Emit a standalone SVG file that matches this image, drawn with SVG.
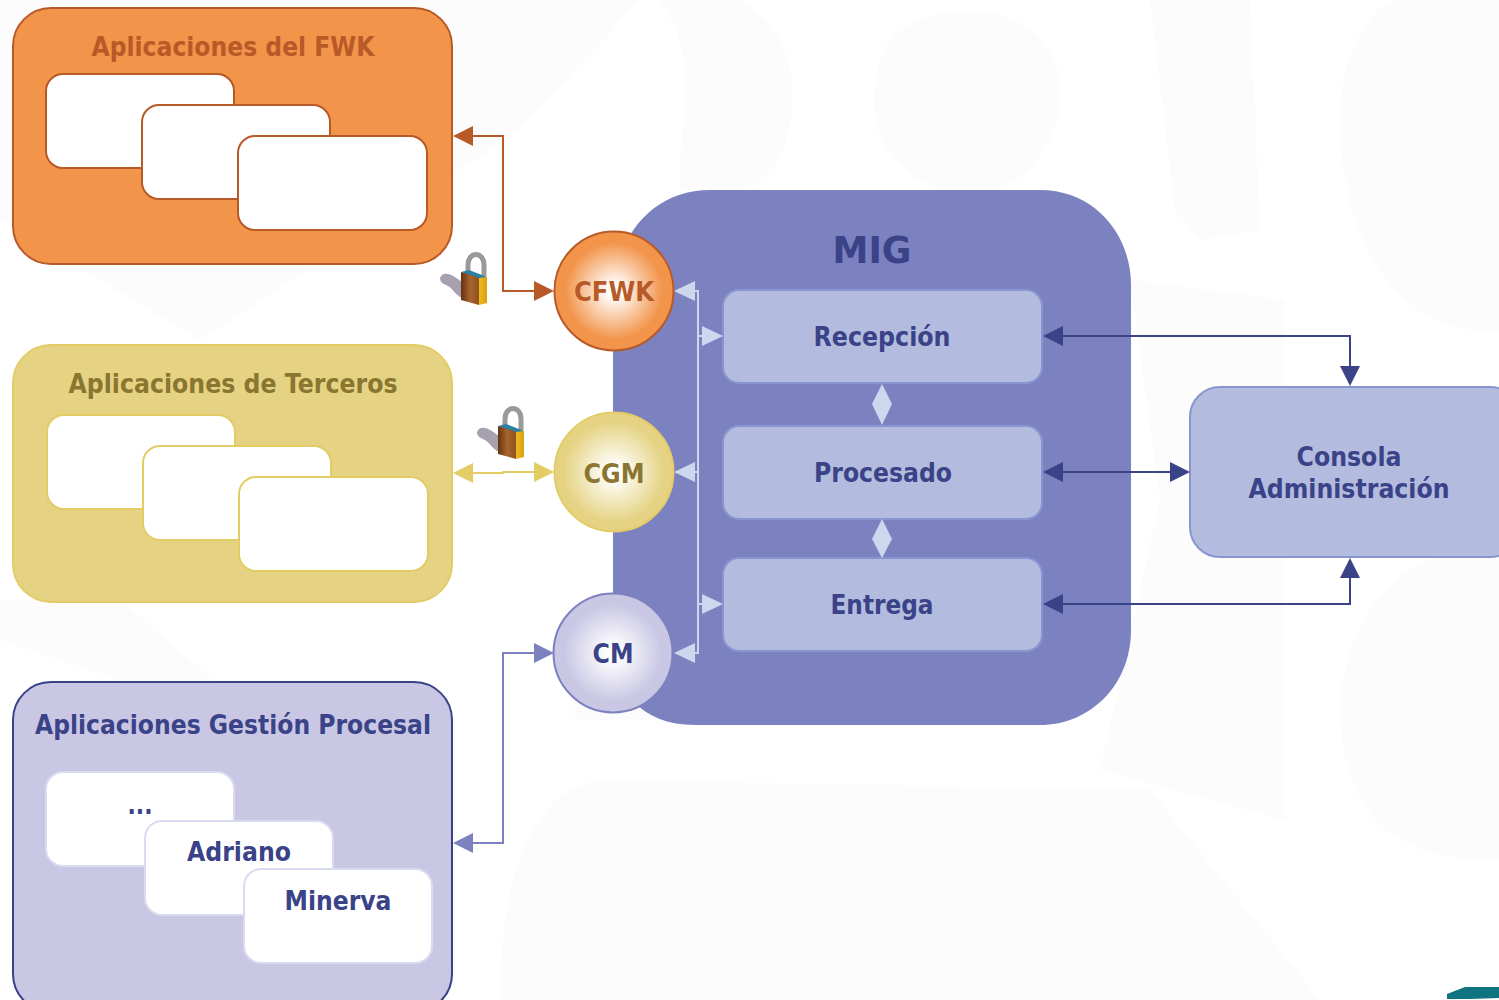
<svg xmlns="http://www.w3.org/2000/svg" width="1499" height="1000" viewBox="0 0 1499 1000">
<style>
text{font-family:"DejaVu Sans","Liberation Sans",sans-serif;font-weight:bold;text-anchor:middle;font-size:27px}
.wm{fill:#fcfcfc;stroke:none}
.inner{stroke-width:2}
.or{fill:#fff;stroke:#b85a28}
.ye{fill:#fff;stroke:#e3cc66}
.li{fill:#fff;stroke:#d9dcf0}
.box{fill:#b3bcde;stroke:#8796cf;stroke-width:2}
.blue{fill:#3a4288}
.c{fill:none;stroke-width:2}
</style>
<defs>
<radialGradient id="gO"><stop offset="0.1" stop-color="#fff"/><stop offset="0.82" stop-color="#f2944a"/></radialGradient>
<radialGradient id="gY"><stop offset="0.1" stop-color="#fff"/><stop offset="0.85" stop-color="#e5d383"/></radialGradient>
<radialGradient id="gL"><stop offset="0.1" stop-color="#fff"/><stop offset="0.82" stop-color="#c9c7e4"/></radialGradient>
<linearGradient id="lockB" x1="0" x2="1" y1="0" y2="0"><stop offset="0" stop-color="#643210"/><stop offset="0.35" stop-color="#a9642c"/><stop offset="0.68" stop-color="#8f5220"/><stop offset="0.7" stop-color="#f0b91e"/><stop offset="1" stop-color="#d9a015"/></linearGradient>
<g id="lock">
<path d="M0 22 C3 14 12 18 22 26 L24 43 C16 40 14 34 8 30 C4 28 0 27 0 22Z" fill="#a8a0ae"/>
<path d="M28 18 V9 C28 -5 44 -5 44 9 V20" fill="none" stroke="#9a9a9a" stroke-width="5"/>
<path d="M21 16 L47 21 V47 L39 49 L21 44Z" fill="url(#lockB)"/>
<path d="M21 16 L29 14 L47 21 L39 22Z" fill="#2d7fa0"/>
</g>
</defs>
<rect width="1499" height="1000" fill="#fff"/>
<g id="watermark">
<path class="wm" d="M430 0 H640 L520 130 L200 340 L0 220 V0Z"/>
<path class="wm" d="M0 600 L120 600 L330 780 L150 690 L0 640Z"/>
<path class="wm" d="M500 1000 C500 880 530 790 600 780 L1150 790 L1320 1000Z"/>
<path class="wm" d="M660 0 H740 C820 40 800 180 740 190 H680 C680 100 700 60 660 0Z"/>
<path class="wm" d="M880 60 C900 -10 1060 -10 1060 90 C1060 170 990 210 940 190 C890 170 860 130 880 60Z"/>
<path class="wm" d="M1150 0 H1250 L1260 230 L1200 240 L1175 210 Z"/>
<path class="wm" d="M1340 120 C1340 40 1380 0 1400 0 H1499 V330 C1400 340 1340 240 1340 120Z"/>
<path class="wm" d="M1130 280 L1285 300 V820 L1100 770 L1160 500Z"/>
<path class="wm" d="M1340 700 C1360 570 1420 560 1499 540 V860 C1420 860 1340 840 1340 700Z"/>
<path class="wm" d="M575 620 L800 720 H575Z"/>
</g>
<g id="mig">
<path d="M613 300 C613 240 650 190 710 190 H1040 C1095 190 1131 235 1131 285 V630 C1131 685 1090 725 1040 725 H695 C640 725 613 690 613 640Z" fill="#7c81bf"/>
<text x="872" y="263" style="font-size:37px" class="blue" textLength="79" lengthAdjust="spacingAndGlyphs">MIG</text>
</g>
<g id="app-fwk">
<rect x="13" y="8" width="439" height="256" rx="38" fill="#f2944a" stroke="#b85a28" stroke-width="2"/>
<text x="233" y="56" fill="#b85a28" textLength="283" lengthAdjust="spacingAndGlyphs">Aplicaciones del FWK</text>
<rect class="inner or" x="46" y="74" width="188" height="94" rx="17"/>
<rect class="inner or" x="142" y="105" width="188" height="94" rx="17"/>
<rect class="inner or" x="238" y="136" width="189" height="94" rx="17"/>
</g>
<g id="app-terceros">
<rect x="13" y="345" width="439" height="257" rx="38" fill="#e5d383" stroke="#e3cc66" stroke-width="2"/>
<text x="233" y="393" fill="#8a7630" textLength="329" lengthAdjust="spacingAndGlyphs">Aplicaciones de Terceros</text>
<rect class="inner ye" x="47" y="415" width="188" height="94" rx="17"/>
<rect class="inner ye" x="143" y="446" width="188" height="94" rx="17"/>
<rect class="inner ye" x="239" y="477" width="189" height="94" rx="17"/>
</g>
<g id="app-gestion">
<rect x="13" y="682" width="439" height="330" rx="38" fill="#c9c7e4" stroke="#3a4288" stroke-width="2"/>
<text x="233" y="734" class="blue" textLength="396" lengthAdjust="spacingAndGlyphs">Aplicaciones Gestión Procesal</text>
<rect class="inner li" x="46" y="772" width="188" height="94" rx="17"/>
<text x="140" y="814" class="blue" textLength="25" lengthAdjust="spacingAndGlyphs">...</text>
<rect class="inner li" x="145" y="821" width="188" height="94" rx="17"/>
<text x="239" y="861" class="blue" textLength="104" lengthAdjust="spacingAndGlyphs">Adriano</text>
<rect class="inner li" x="244" y="869" width="188" height="94" rx="17"/>
<text x="338" y="910" class="blue" textLength="107" lengthAdjust="spacingAndGlyphs">Minerva</text>
</g>
<g id="locks">
<use href="#lock" x="440" y="256"/>
<use href="#lock" x="477" y="410"/>
</g>
<g id="recepcion"><rect class="box" x="723" y="290" width="319" height="93" rx="16"/><text x="882" y="346" class="blue" textLength="137" lengthAdjust="spacingAndGlyphs">Recepción</text></g>
<g id="procesado"><rect class="box" x="723" y="426" width="319" height="93" rx="16"/><text x="883" y="482" class="blue" textLength="138" lengthAdjust="spacingAndGlyphs">Procesado</text></g>
<g id="entrega"><rect class="box" x="723" y="558" width="319" height="93" rx="16"/><text x="882" y="614" class="blue" textLength="103" lengthAdjust="spacingAndGlyphs">Entrega</text></g>
<g id="consola"><rect class="box" x="1190" y="387" width="330" height="170" rx="30"/><text x="1349" y="466" class="blue" textLength="105" lengthAdjust="spacingAndGlyphs">Consola</text><text x="1349" y="498" class="blue" textLength="201" lengthAdjust="spacingAndGlyphs">Administración</text></g>
<g id="connectors">
<path class="c" stroke="#b85a28" d="M472 136 H503 V291 H534"/>
<path d="M453 136 L473 126 V146Z M554 291 L534 281 V301Z" fill="#b85a28"/>
<path class="c" stroke="#e3cc66" d="M473 473 H503 V472 H534"/>
<path d="M453 473 L473 463 V483Z M554 472 L534 462 V482Z" fill="#e3cc66"/>
<path class="c" stroke="#7c81bf" d="M473 843 H503 V653 H534"/>
<path d="M453 843 L473 833 V853Z M554 653 L534 643 V663Z" fill="#7c81bf"/>
<path class="c" stroke="#cdd8ee" d="M695 291 H698 V653 H695 M698 336 H703 M698 472 H695 M698 604 H703"/>
<path d="M674 291 L695 281 V301Z M723 336 L702 326 V346Z M674 472 L695 462 V482Z M723 604 L702 594 V614Z M674 653 L695 643 V663Z" fill="#cdd8ee"/>
<path d="M882 384 L892 404 L882 425 L872 404Z M882 519 L892 539 L882 558 L872 539Z" fill="#cdd8ee"/>
<path class="c" stroke="#3a4288" d="M1063 336 H1350 V366"/>
<path d="M1043 336 L1063 326 V346Z M1350 386 L1340 366 H1360Z" class="blue"/>
<path class="c" stroke="#3a4288" d="M1063 472 H1170"/>
<path d="M1043 472 L1063 462 V482Z M1190 472 L1170 462 V482Z" class="blue"/>
<path class="c" stroke="#3a4288" d="M1063 604 H1350 V578"/>
<path d="M1043 604 L1063 594 V614Z M1350 558 L1340 578 H1360Z" class="blue"/>
</g>
<g id="cfwk"><circle cx="614" cy="291" r="59.500" fill="url(#gO)" stroke="#b85a28" stroke-width="2"/><text x="614" y="301" fill="#b85a28" textLength="80" lengthAdjust="spacingAndGlyphs">CFWK</text></g>
<g id="cgm"><circle cx="614" cy="472" r="59.500" fill="url(#gY)" stroke="#e3cc66" stroke-width="2"/><text x="614" y="483" fill="#8a7630" textLength="61" lengthAdjust="spacingAndGlyphs">CGM</text></g>
<g id="cm"><circle cx="613" cy="653" r="59.500" fill="url(#gL)" stroke="#7c81bf" stroke-width="2"/><text x="613" y="663" class="blue" textLength="41" lengthAdjust="spacingAndGlyphs">CM</text></g>
<path id="logo" d="M1447 999 V994 L1465 987 H1499 V998 L1470 999Z" fill="#0f7480"/>
</svg>
